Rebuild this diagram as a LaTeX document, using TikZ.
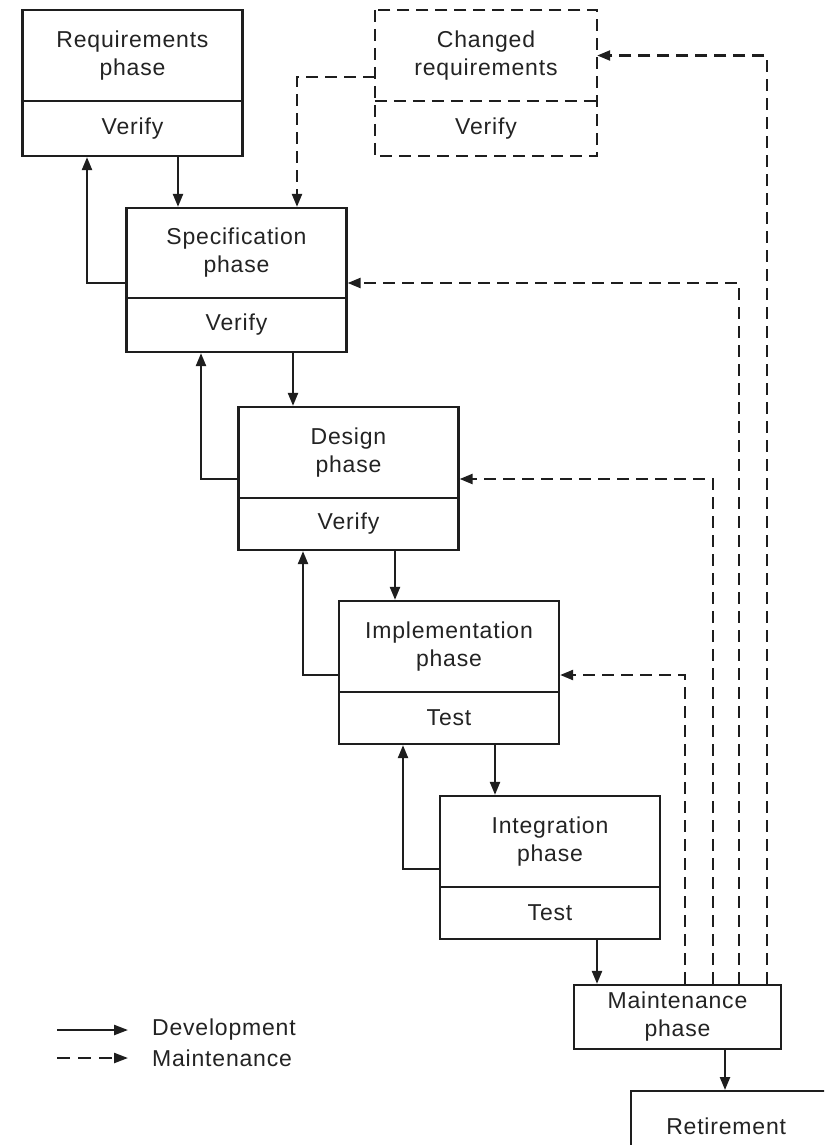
\documentclass[tikz,border=0pt]{standalone}
\usepackage{fontspec}
\setmainfont[LetterSpace=3.5]{Liberation Sans}
\usetikzlibrary{arrows.meta,calc}
\definecolor{ink}{RGB}{30,30,30}
\definecolor{txt}{RGB}{35,35,35}
\begin{document}
\begin{tikzpicture}[x=1pt,y=-1pt,
  lbl/.style={inner sep=0pt, align=center, text=txt, font=\fontsize{23}{28}\selectfont},
  phase/.style={lbl, draw=ink, line width=2.3pt, minimum width=220pt},
  ghost/.style={lbl, minimum width=222pt},
  dev/.style={draw=ink, line width=2.3pt, -{Triangle[length=13pt,width=10pt]}},
  mnt/.style={dev, dash pattern=on 12pt off 7pt},
  dbox/.style={draw=ink, line width=2.3pt, dash pattern=on 12pt off 7pt}]
\useasboundingbox (0,0) rectangle (824,1145);
\clip (0,0) rectangle (824,1145);
\fill[white] (0,0) rectangle (824,1145);
% boxes
\node[phase, minimum height=91pt] (req) at (132.5,55.5) {Requirements\\phase};
\node[phase, minimum height=55pt] (reqv) at (132.5,128.5) {Verify};
\node[ghost, minimum height=91pt] (chg) at (486,55.5) {Changed\\requirements};
\node[ghost, minimum height=55pt] (chgv) at (486,128.5) {Verify};
\draw[dbox] (chg.north west) rectangle (chgv.south east);
\draw[dbox] (chg.south west) -- (chg.south east);
\node[phase, minimum height=90pt] (spec) at (236.5,253) {Specification\\phase};
\node[phase, minimum height=54pt] (specv) at (236.5,325) {Verify};
\node[phase, minimum height=91pt] (des) at (348.5,452.5) {Design\\phase};
\node[phase, minimum height=52pt] (desv) at (348.5,524) {Verify};
\node[phase, minimum height=91pt] (impl) at (449,646.5) {Implementation\\phase};
\node[phase, minimum height=52pt] (implv) at (449,718) {Test};
\node[phase, minimum height=91pt] (integ) at (550,841.5) {Integration\\phase};
\node[phase, minimum height=52pt] (integv) at (550,913) {Test};
\node[phase, minimum width=207pt, minimum height=64pt] (maint) at (677.5,1017) {Maintenance\\phase};
\node[phase, minimum width=200pt, minimum height=70pt, anchor=north west] (ret) at (630,1090) {Retirement\hspace*{10pt}};
% development arrows
\draw[dev] ([xshift=45.5pt]reqv.south) -- ([xshift=45.5pt]reqv.south |- spec.north);
\draw[dev] ([yshift=-30pt]spec.west) -| ([xshift=-45.5pt]reqv.south);
\draw[dev] ([xshift=56.5pt]specv.south) -- ([xshift=56.5pt]specv.south |- des.north);
\draw[dev] ([yshift=-26.5pt]des.west) -| ([xshift=-35.5pt]specv.south);
\draw[dev] ([xshift=46.5pt]desv.south) -- ([xshift=46.5pt]desv.south |- impl.north);
\draw[dev] ([yshift=-28.5pt]impl.west) -| ([xshift=-45.5pt]desv.south);
\draw[dev] ([xshift=46pt]implv.south) -- ([xshift=46pt]implv.south |- integ.north);
\draw[dev] ([yshift=-27.5pt]integ.west) -| ([xshift=-46pt]implv.south);
\draw[dev] ([xshift=47pt]integv.south) -- ([xshift=47pt]integv.south |- maint.north);
\draw[dev] ([xshift=47.5pt]maint.south) -- ([xshift=47.5pt]maint.south |- ret.north);
% maintenance arrows
\draw[mnt] ([yshift=-21.5pt]chg.west) -| ([xshift=60.5pt]spec.north);
\draw[mnt] ([xshift=7.5pt]maint.north) |- ([yshift=-28.5pt]impl.east);
\draw[mnt] ([xshift=35.5pt]maint.north) |- ([yshift=-26.5pt]des.east);
\draw[mnt] ([xshift=61.5pt]maint.north) |- ([yshift=-30pt]spec.east);
\draw[mnt] ([xshift=89.5pt]maint.north) |- (chg.east);
% legend
\coordinate (la) at (57,1030);
\coordinate (lb) at (128,1030);
\coordinate (lc) at (57,1058);
\coordinate (ld) at (128,1058);
\draw[dev, -{Triangle[length=14pt,width=10pt]}] (la) -- (lb);
\draw[mnt, -{Triangle[length=14pt,width=10pt]}, dash pattern=on 13pt off 8pt] (lc) -- (ld);
\node[lbl, anchor=west] (ldev) at (152,1030) {Development};
\node[lbl, anchor=west] (lmnt) at (152,1058) {Maintenance};
\end{tikzpicture}
\end{document}
